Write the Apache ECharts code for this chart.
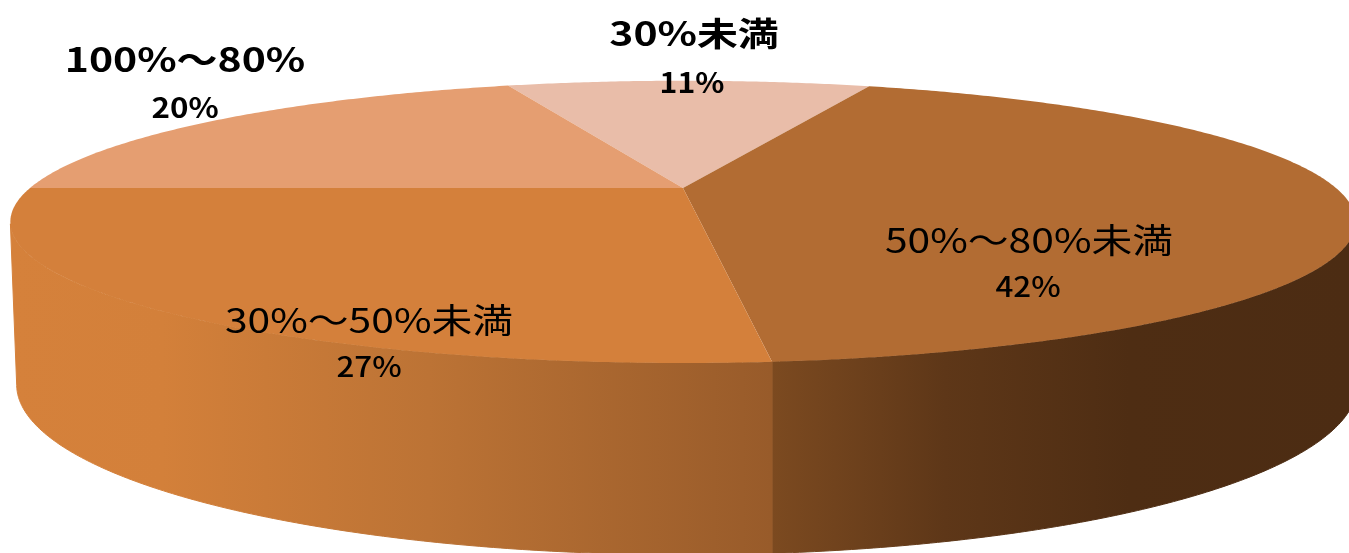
<!DOCTYPE html>
<html lang="ja">
<head>
<meta charset="utf-8">
<title>達成率の分布</title>
<style>
  html, body { margin: 0; padding: 0; background: #fff; overflow: hidden; }
  #chart { width: 1349px; height: 553px; }
</style>
<script src="https://cdn.jsdelivr.net/npm/echarts@6/dist/echarts.min.js"></script>
</head>
<body>
<div id="chart"></div>
<script>
// Slices, clockwise, beginning at the back of the disc
const categories = ['30%未満', '50%～80%未満', '30%～50%未満', '100%～80%'];
const percents = [11, 42, 27, 20];
const topColors = ['#E9BDA9', '#B26C33', '#D4803B', '#E59E71'];

const START_ANGLE = -18; // clockwise degrees from the far side of the disc

// Perspective disc: upper face and the narrower, rounder lower face
const upperRim = { cx: 683, cy: 188, rx: 653, ry: 133, k: 0.24 };
const lowerRim = { cx: 687, cy: 341, rx: 648, ry: 159, k: 0.256 };
const AZIMUTH_SKEW = 1.25;
// Front-most span of the rim that faces the viewer
const WALL_FROM = 105;
const WALL_TO = 255;

const rimPoint = (rim, deg) => {
  const adjusted = (deg - AZIMUTH_SKEW * Math.cos(deg * Math.PI / 180)) * Math.PI / 180;
  const s = Math.sin(adjusted);
  const c = Math.cos(adjusted);
  const w = 1 + rim.k * c;
  return [rim.cx + rim.rx * s / w, rim.cy - rim.ry * c / w];
};

const arc = (rim, from, to) => {
  const steps = Math.max(2, Math.ceil(Math.abs(to - from) * 2));
  const pts = [];
  for (let i = 0; i <= steps; i++) pts.push(rimPoint(rim, from + (to - from) * i / steps));
  return pts;
};

const sideGradient = (x, x2, stops) => ({
  type: 'linear', x, y: 0, x2, y2: 0, global: true,
  colorStops: stops.map(([offset, color]) => ({ offset, color }))
});

// Shading of the side wall, one ramp on either side of the front divider
const wallFills = {
  1: sideGradient(771, 1349, [[0, '#7C4A20'], [0.3, '#5E3718'], [0.62, '#4E2D13'], [1, '#4C2C13']]),
  2: sideGradient(10, 771, [[0, '#D5813B'], [0.2, '#D3803A'], [0.55, '#BC7335'], [1, '#985B2A']])
};

let running = START_ANGLE;
const sliceRows = percents.map((p) => {
  const from = running;
  running += p * 3.6;
  return [from, running, p];
});

const renderTop = (params, api) => ({
  type: 'polygon',
  shape: { points: [[upperRim.cx, upperRim.cy]].concat(arc(upperRim, api.value(0), api.value(1))) },
  style: { fill: topColors[params.dataIndex] }
});

const renderWall = (params, api) => {
  const a = Math.max(api.value(0), WALL_FROM);
  const b = Math.min(api.value(1), WALL_TO);
  if (a >= b) return null;
  // The divider between two walls stays vertical, so the lower edge is cut at its x
  const dividerAtEnd = api.value(1) < WALL_TO;
  const dividerX = rimPoint(upperRim, dividerAtEnd ? b : a)[0];
  const upper = arc(upperRim, a, b);
  const lower = arc(lowerRim, a, b).reverse();
  const keep = lower.filter((p) => (dividerAtEnd ? p[0] >= dividerX : p[0] <= dividerX));
  if (dividerAtEnd) keep.unshift([dividerX, keep[0][1]]);
  else keep.push([dividerX, keep[keep.length - 1][1]]);
  const fill = wallFills[params.dataIndex];
  return {
    type: 'polygon',
    shape: { points: upper.concat(keep) },
    style: { fill, stroke: fill, lineWidth: 1 }
  };
};

// Centre of each label block and the width stretch of its two lines
const labelStyles = [
  { name: [694, 33], pct: [692, 82], nameSize: 33, pctSize: 28, weight: 700, pctWeight: 700, sx: 1.24, psx: 1.08 },
  { name: [1029, 240], pct: [1028, 286], nameSize: 34, pctSize: 28, weight: 400, pctWeight: 500, sx: 1.2, psx: 1.12 },
  { name: [369, 320], pct: [369, 366], nameSize: 34, pctSize: 28, weight: 400, pctWeight: 500, sx: 1.2, psx: 1.12 },
  { name: [185, 59], pct: [185, 107], nameSize: 33, pctSize: 28, weight: 700, pctWeight: 700, sx: 1.24, psx: 1.12 }
];
const LABEL_FONT = 'Noto Sans CJK JP';

const renderLabel = (params, api) => {
  const i = params.dataIndex;
  const st = labelStyles[i];
  const line = (text, pos, size, weight, sx) => ({
    type: 'text',
    x: pos[0],
    y: pos[1],
    scaleX: sx,
    style: {
      text, fontSize: size, fontWeight: weight, fontFamily: LABEL_FONT,
      fill: '#000', align: 'center', verticalAlign: 'middle'
    }
  });
  return {
    type: 'group',
    children: [
      line(categories[i], st.name, st.nameSize, st.weight, st.sx),
      line(api.value(2) + '%', st.pct, st.pctSize, st.pctWeight, st.psx)
    ]
  };
};

const customLayer = (renderItem, z) => ({
  type: 'custom',
  coordinateSystem: 'none',
  renderItem,
  data: sliceRows,
  z,
  silent: true,
  animation: false
});

const chart = echarts.init(document.getElementById('chart'), null, { renderer: 'canvas' });
chart.setOption({
  backgroundColor: '#ffffff',
  animation: false,
  series: [customLayer(renderWall, 1), customLayer(renderTop, 2), customLayer(renderLabel, 3)]
});
</script>
</body>
</html>
